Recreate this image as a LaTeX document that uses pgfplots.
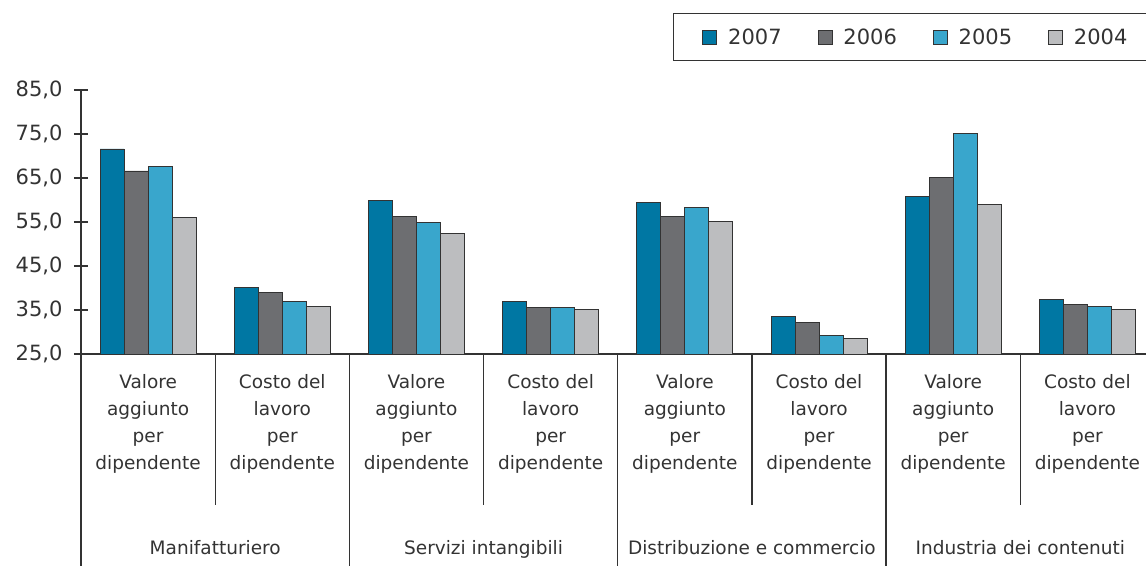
\documentclass[border=0pt]{standalone}
\usepackage{fontspec}
\setmainfont{DejaVu Sans}
\usepackage{pgfplots}
\pgfplotsset{compat=1.18}
\definecolor{c07}{HTML}{0077A3}
\definecolor{c06}{HTML}{6D6E71}
\definecolor{c05}{HTML}{39A6CC}
\definecolor{c04}{HTML}{BCBDBF}
\definecolor{ax}{HTML}{333333}
\begin{document}
\begin{tikzpicture}[x=1pt,y=1pt]
\useasboundingbox (0,0) rectangle (1146,-566);
\begin{axis}[
  at={(81pt,-354pt)}, anchor=south west,
  scale only axis, width=1073.6pt, height=264pt,
  xmin=-0.5, xmax=7.5, ymin=25, ymax=85,
  ybar=0pt, bar width=24pt,
  axis x line*=bottom, axis y line*=left,
  axis line style={ax, line width=1.3pt},
  tick align=center, major tick length=14pt,
  ytick={25,35,45,55,65,75,85},
  ytick style={ax, line width=1.3pt},
  xtick={0,1,2,3,4,5,6,7},
  xtick style={draw=none},
  yticklabel style={font=\fontsize{21}{24}\selectfont, text=ax, xshift=-8pt},
  y tick label style={/pgf/number format/.cd, fixed, fixed zerofill, precision=1, use comma, assume math mode=true},
  xticklabels={{Valore\\aggiunto\\per\\dipendente},{Costo del\\lavoro\\per\\dipendente},{Valore\\aggiunto\\per\\dipendente},{Costo del\\lavoro\\per\\dipendente},{Valore\\aggiunto\\per\\dipendente},{Costo del\\lavoro\\per\\dipendente},{Valore\\aggiunto\\per\\dipendente},{Costo del\\lavoro\\per\\dipendente}},
  xticklabel style={align=center, font=\fontsize{18.5}{27}\selectfont, text=ax, anchor=north, yshift=-10pt},
  legend columns=4,
  legend style={at={(0.5514,1.2917)}, anchor=north west, draw=ax, line width=1pt,
    font=\fontsize{21}{24}\selectfont, text=ax, inner xsep=29pt, inner ysep=15pt,
    nodes={inner sep=0pt},
    /tikz/every odd column/.style={column sep=11pt},
    /tikz/every even column/.style={column sep=36pt}},
  every axis plot/.append style={draw=ax, line width=0.9pt},
]
\addplot[fill=c07, legend image code/.code={\draw[fill=c07,draw=ax,line width=0.8pt] (0pt,-7pt) rectangle (14pt,7pt);}] coordinates {(0,71.6) (1,40.2) (2,59.8) (3,37.0) (4,59.5) (5,33.6) (6,60.8) (7,37.3)};
\addplot[fill=c06, legend image code/.code={\draw[fill=c06,draw=ax,line width=0.8pt] (0pt,-7pt) rectangle (14pt,7pt);}] coordinates {(0,66.6) (1,39.0) (2,56.3) (3,35.6) (4,56.2) (5,32.2) (6,65.1) (7,36.2)};
\addplot[fill=c05, legend image code/.code={\draw[fill=c05,draw=ax,line width=0.8pt] (0pt,-7pt) rectangle (14pt,7pt);}] coordinates {(0,67.7) (1,36.9) (2,54.9) (3,35.6) (4,58.2) (5,29.3) (6,75.2) (7,35.9)};
\addplot[fill=c04, legend image code/.code={\draw[fill=c04,draw=ax,line width=0.8pt] (0pt,-7pt) rectangle (14pt,7pt);}] coordinates {(0,56.1) (1,35.8) (2,52.3) (3,35.2) (4,55.2) (5,28.6) (6,59.0) (7,35.2)};
\legend{2007,2006,2005,2004}
\coordinate (s1) at (axis cs:-0.5,25);
\coordinate (s2) at (axis cs:0.5,25);
\coordinate (s3) at (axis cs:1.5,25);
\coordinate (s4) at (axis cs:2.5,25);
\coordinate (s5) at (axis cs:3.5,25);
\coordinate (s6) at (axis cs:4.5,25);
\coordinate (s7) at (axis cs:5.5,25);
\coordinate (s8) at (axis cs:6.5,25);
\coordinate (s9) at (axis cs:7.5,25);
\end{axis}
\foreach \i in {1,3,5,7,9} { \draw[ax, line width=1.3pt] (s\i) -- (s\i |- 0,-566); }
\foreach \i in {2,4,6,8} { \draw[ax, line width=1.3pt] (s\i) -- (s\i |- 0,-505); }
\node[font=\fontsize{18.5}{27}\selectfont, text=ax, anchor=base] at ([yshift=-200pt]s2) {Manifatturiero};
\node[font=\fontsize{18.5}{27}\selectfont, text=ax, anchor=base] at ([yshift=-200pt]s4) {Servizi intangibili};
\node[font=\fontsize{18.5}{27}\selectfont, text=ax, anchor=base] at ([yshift=-200pt]s6) {Distribuzione e commercio};
\node[font=\fontsize{18.5}{27}\selectfont, text=ax, anchor=base] at ([yshift=-200pt]s8) {Industria dei contenuti};
\end{tikzpicture}
\end{document}
